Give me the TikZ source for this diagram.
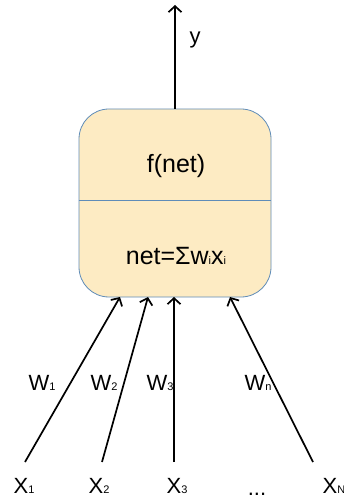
\documentclass[tikz,border=0pt]{standalone}
\usepackage{fontspec}
\setmainfont{Liberation Sans}
\usetikzlibrary{arrows.meta}
\definecolor{cellfill}{HTML}{FDEBC3}
\definecolor{cellline}{HTML}{5F8CB8}
\newcommand{\sub}[1]{{\fontsize{11}{11}\selectfont #1}}
\tikzset{
  wire/.style={line width=1.7pt, -{Straight Barb[length=6pt,width=13pt,line width=1.7pt]}},
  lbl/.style={font=\fontsize{22}{24}\selectfont, inner sep=0pt, anchor=base},
  big/.style={font=\fontsize{25}{28}\selectfont, inner sep=0pt, anchor=base},
  cell/.style={draw=cellline, line width=0.8pt, fill=cellfill, rounded corners=30pt,
    minimum width=192pt, minimum height=188pt, inner sep=0pt}
}
\begin{document}
\begin{tikzpicture}[x=1pt,y=-1pt]
\useasboundingbox (0,0) rectangle (344,502);
% neuron body
\node[cell] (cell) at (175,203) {};
\draw[cellline, line width=0.8pt] (cell.west |- 0,200) coordinate (dl) -- (cell.east |- 0,200) coordinate (dr);
\node[big] (fnet) at (176,173) {f(net)};
\node[big] (net) at (176,264) {net=Σw\sub{i}x\sub{i}};
% output
\coordinate (out) at (175,5);
\draw[wire] (cell.north) -- (out);
\node[lbl] (y) at (195,44) {y};
% input start points and entry points
\coordinate (s1) at (25,462);
\coordinate (s2) at (102,462);
\coordinate (s3) at (174,462);
\coordinate (sn) at (313,462);
\coordinate (e1) at (120,297);
\coordinate (e2) at (148,297);
\coordinate (e3) at (174,297);
\coordinate (en) at (230,297);
\draw[wire] (s1) -- (e1);
\draw[wire] (s2) -- (e2);
\draw[wire] (s3) -- (e3);
\draw[wire] (sn) -- (en);
% weights
\node[lbl] (w1) at (42,390) {W\sub{1}};
\node[lbl] (w2) at (104,390) {W\sub{2}};
\node[lbl] (w3) at (160,390) {W\sub{3}};
\node[lbl] (wn) at (258,390) {W\sub{n}};
% inputs
\node[lbl] (x1) at (24,493) {X\sub{1}};
\node[lbl] (x2) at (99,493) {X\sub{2}};
\node[lbl] (x3) at (177,493) {X\sub{3}};
\node[lbl] (dots) at (257,495) {...};
\node[lbl] (xn) at (334,493) {X\sub{N}};
\end{tikzpicture}
\end{document}
